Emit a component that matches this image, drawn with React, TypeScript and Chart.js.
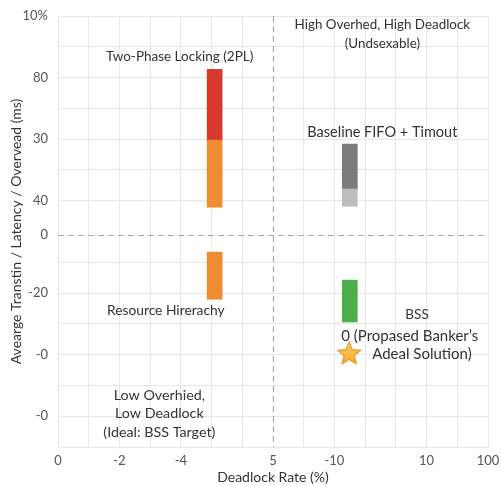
import { useEffect, useRef } from "react";
import { Chart, registerables } from "chart.js";

Chart.register(...registerables);

// Axis tick positions (in grid units) and the text printed at each
const X_TICK_POS = [0, 2, 4, 7, 9, 12, 14];
const X_TICK_TEXT = ["0", "-2", "-4", "5", "-10", "10", "100"];
const Y_TICK_POS = [14, 12, 10, 8, 6.9, 5, 3, 1];
const Y_TICK_TEXT = ["10%", "80", "30", "40", "0", "-20", "-0", "-0"];

// Quadrant dividers
const X_DIVIDER = 7;
const Y_DIVIDER = 6.9;

// Floating range bars: one entry per coloured segment
const SEGMENT_NAMES = [
  "2PL (upper)",
  "2PL (lower)",
  "Resource Hierarchy",
  "FIFO + Timeout (upper)",
  "FIFO + Timeout (lower)",
  "BSS",
];
const SEGMENT_X = [5.1, 5.1, 5.1, 9.5, 9.5, 9.5];
const SEGMENT_LOW = [9.97, 7.79, 4.8, 8.38, 7.82, 4.06];
const SEGMENT_HIGH = [12.27, 9.97, 6.33, 9.84, 8.38, 5.42];
const SEGMENT_COLORS = ["#d8392e", "#ef8b31", "#ef8b31", "#7b7b7b", "#bdbdbd", "#4fae4c"];

// Proposed solution marker
const STAR_X = [9.48];
const STAR_Y = [3.05];

// Text annotations placed in grid units
const NOTES: { lines: string[]; x: number; y: number; size: number }[] = [
  { lines: ["Two-Phase Locking (2PL)"], x: 3.96, y: 12.67, size: 13.5 },
  { lines: ["High Overhed, High Deadlock", "(Undsexable)"], x: 10.56, y: 13.71, size: 13.4 },
  { lines: ["Baseline FIFO + Timout"], x: 10.56, y: 10.22, size: 14.5 },
  { lines: ["Resource Hirerachy"], x: 3.51, y: 4.42, size: 13.8 },
  { lines: ["BSS"], x: 11.69, y: 4.29, size: 13.5 },
  { lines: ["0 (Propased Banker\u2019s"], x: 11.45, y: 3.6, size: 15 },
  { lines: ["Adeal Solution)"], x: 11.85, y: 3.0, size: 15 },
  { lines: ["Low Overhied,", "Low Deadlock", "(Ideal: BSS Target)"], x: 3.3, y: 1.69, size: 14.3 },
];

const FONT = "Lato, 'Open Sans', sans-serif";
const TEXT_COLOR = "#333333";
const GRID_COLOR = "#e7e7e7";

function makeStar(): HTMLCanvasElement {
  const size = 28;
  const c = document.createElement("canvas");
  c.width = size;
  c.height = size;
  const ctx = c.getContext("2d")!;
  const cx = size / 2;
  const cy = size / 2 + 1;
  const outer = 12.5;
  const inner = 5.4;
  ctx.beginPath();
  for (let i = 0; i < 10; i++) {
    const r = i % 2 === 0 ? outer : inner;
    const a = -Math.PI / 2 + (i * Math.PI) / 5;
    const px = cx + r * Math.cos(a);
    const py = cy + r * Math.sin(a);
    if (i === 0) ctx.moveTo(px, py);
    else ctx.lineTo(px, py);
  }
  ctx.closePath();
  const g = ctx.createLinearGradient(0, 0, 0, size);
  g.addColorStop(0, "#fbd35a");
  g.addColorStop(1, "#f1a52a");
  ctx.fillStyle = g;
  ctx.fill();
  ctx.lineWidth = 1;
  ctx.strokeStyle = "#d98c1e";
  ctx.stroke();
  return c;
}

const overlayPlugin = {
  id: "quadrantOverlay",
  beforeDatasetsDraw(chart: any) {
    const { ctx, chartArea, scales } = chart;
    const xs = scales.x;
    const ys = scales.y;
    ctx.save();
    ctx.strokeStyle = "#aaaaaa";
    ctx.lineWidth = 1.2;
    ctx.setLineDash([6, 4]);
    const yPix = Math.round(ys.getPixelForValue(Y_DIVIDER)) + 0.5;
    ctx.beginPath();
    ctx.moveTo(chartArea.left, yPix);
    ctx.lineTo(chartArea.right, yPix);
    ctx.stroke();
    const xPix = Math.round(xs.getPixelForValue(X_DIVIDER)) + 0.5;
    ctx.beginPath();
    ctx.moveTo(xPix, chartArea.top);
    ctx.lineTo(xPix, chartArea.bottom);
    ctx.stroke();
    ctx.restore();
  },
  afterDatasetsDraw(chart: any) {
    const { ctx, scales } = chart;
    ctx.save();
    ctx.fillStyle = TEXT_COLOR;
    ctx.textAlign = "center";
    ctx.textBaseline = "middle";
    for (const n of NOTES) {
      ctx.font = `${n.size}px ${FONT}`;
      const px = scales.x.getPixelForValue(n.x);
      const py = scales.y.getPixelForValue(n.y);
      n.lines.forEach((line, i) => {
        ctx.fillText(line, px, py + i * 18.5);
      });
    }
    ctx.restore();
  },
};

export default function App() {
  const canvasRef = useRef<HTMLCanvasElement | null>(null);

  useEffect(() => {
    if (!canvasRef.current) return;
    const star = makeStar();

    const chart = new Chart(canvasRef.current, {
      type: "bar",
      data: {
        datasets: [
          {
            type: "bar",
            label: "Ranges",
            data: SEGMENT_NAMES.map((_, i) => ({
              x: SEGMENT_X[i],
              y: [SEGMENT_LOW[i], SEGMENT_HIGH[i]],
            })) as any,
            backgroundColor: SEGMENT_COLORS,
            borderWidth: 0,
            barThickness: 15,
          },
          {
            type: "scatter",
            label: "BSS",
            data: STAR_X.map((x, i) => ({ x, y: STAR_Y[i] })),
            pointStyle: star as any,
            pointRadius: 12,
          } as any,
        ],
      },
      options: {
        animation: false,
        responsive: true,
        maintainAspectRatio: false,
        layout: { padding: { top: 16, right: 12, left: 0, bottom: 0 } },
        plugins: {
          legend: { display: false },
          tooltip: { enabled: false },
        },
        scales: {
          x: {
            type: "linear",
            min: 0,
            max: 14,
            offset: false,
            border: { display: false },
            grid: {
              offset: false,
              drawTicks: false,
              color: (c: any) => (c.tick && c.tick.value === X_DIVIDER ? "rgba(0,0,0,0)" : GRID_COLOR),
            },
            afterBuildTicks: (scale: any) => {
              const t = [];
              for (let v = 0; v <= 14; v++) t.push({ value: v });
              scale.ticks = t;
            },
            ticks: {
              autoSkip: false,
              maxRotation: 0,
              padding: 6,
              color: "#555555",
              font: { family: FONT, size: 13 },
              callback: (v: any) => {
                const i = X_TICK_POS.indexOf(Number(v));
                return i >= 0 ? X_TICK_TEXT[i] : "";
              },
            },
            title: {
              display: true,
              text: "Deadlock Rate (%)",
              color: TEXT_COLOR,
              font: { family: FONT, size: 14 },
              padding: { top: 2, bottom: 0 },
            },
            afterFit: (scale: any) => {
              scale.height = 39;
              scale.paddingLeft = 0;
              scale.paddingRight = 0;
            },
          },
          y: {
            type: "linear",
            min: 0,
            max: 14,
            border: { display: false },
            grid: {
              drawTicks: false,
              color: (c: any) => (c.tick && c.tick.value === Y_DIVIDER ? "rgba(0,0,0,0)" : GRID_COLOR),
            },
            afterBuildTicks: (scale: any) => {
              const t = [];
              for (let v = 0; v <= 14; v++) {
                t.push({ value: v === 7 ? Y_DIVIDER : v });
              }
              scale.ticks = t;
            },
            ticks: {
              autoSkip: false,
              padding: 10,
              color: "#555555",
              font: { family: FONT, size: 13 },
              callback: (v: any) => {
                const i = Y_TICK_POS.indexOf(Number(v));
                return i >= 0 ? Y_TICK_TEXT[i] : "";
              },
            },
            title: {
              display: true,
              text: "Avearge Transtin / Latency / Overvead (ms)",
              color: TEXT_COLOR,
              font: { family: FONT, size: 14 },
              padding: { top: 8, bottom: 0 },
            },
            afterFit: (scale: any) => {
              scale.width = 58;
              scale.paddingTop = 0;
              scale.paddingBottom = 0;
            },
          },
        },
      },
      plugins: [overlayPlugin],
    });

    return () => chart.destroy();
  }, []);

  return (
    <div style={{ position: "fixed", left: 0, top: 0, width: 501, height: 486, background: "#ffffff" }}>
      <canvas ref={canvasRef} />
    </div>
  );
}
